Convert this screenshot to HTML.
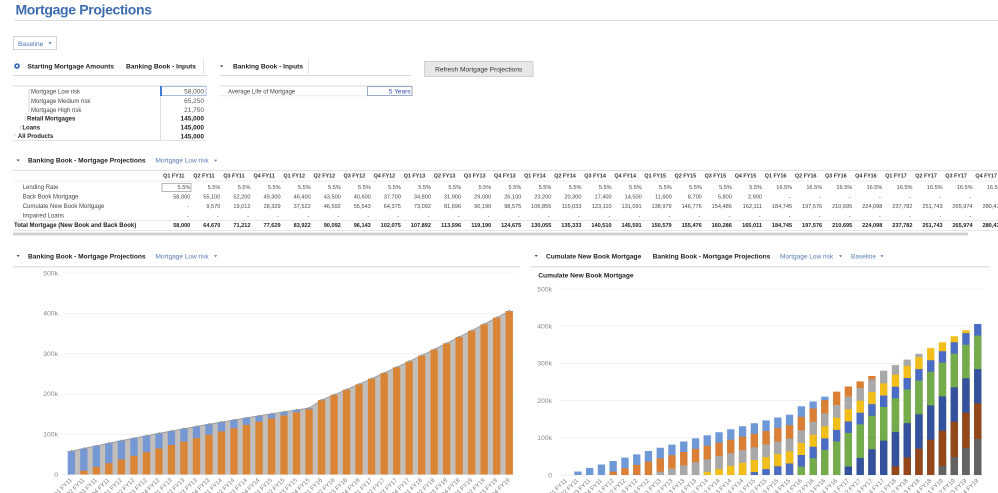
<!DOCTYPE html>
<html><head><meta charset="utf-8">
<style>
html,body{margin:0;padding:0;background:#fff;width:998px;height:493px;overflow:hidden}
svg{display:block}
text{font-family:"Liberation Sans",Arial,sans-serif}
</style></head>
<body>
<svg width="998" height="493" viewBox="0 0 998 493" xmlns="http://www.w3.org/2000/svg">
<!-- Title -->
<text x="15.5" y="14.5" font-size="14" font-weight="bold" fill="#3d6cb0" letter-spacing="-0.35">Mortgage Projections</text>
<line x1="14" y1="20.5" x2="998" y2="20.5" stroke="#dcdcdc"/>

<!-- Baseline dropdown -->
<rect x="13.5" y="36.5" width="43" height="13" fill="#fff" stroke="#d3d3d3"/>
<text x="18" y="45.8" font-size="6.6" fill="#4a72b0">Baseline</text>
<polygon points="48.5,42.3 51.7,42.3 50.1,44.2" fill="#4a72b0"/>

<!-- Row 2 -->
<circle cx="17" cy="66" r="2.8" fill="#2e6cb5"/><circle cx="17" cy="66" r="1.1" fill="#fff"/>
<g font-size="6.6" font-weight="bold" fill="#222">
<text x="27.5" y="68.3">Starting Mortgage Amounts</text>
<text x="126" y="68.3">Banking Book - Inputs</text>
<text x="233" y="68.3">Banking Book - Inputs</text>
</g>
<polygon points="220,65.3 223.4,65.3 221.7,67.4" fill="#555"/>
<line x1="203.5" y1="59" x2="203.5" y2="74" stroke="#e2e2e2"/>
<line x1="308.5" y1="59" x2="308.5" y2="74" stroke="#e2e2e2"/>
<line x1="13" y1="75.5" x2="207" y2="75.5" stroke="#dadada"/>
<line x1="219" y1="75.5" x2="411" y2="75.5" stroke="#dadada"/>
<rect x="424.5" y="61.5" width="108.5" height="15" fill="#e7e7e7" stroke="#d2d2d2"/>
<text x="478.7" y="71.6" font-size="6.6" fill="#333" text-anchor="middle">Refresh Mortgage Projections</text>

<!-- Tree inputs -->
<line x1="13" y1="86" x2="206" y2="86" stroke="#dcdcdc"/>
<line x1="160.5" y1="86" x2="160.5" y2="140" stroke="#e0e0e0"/>
<line x1="13" y1="140.5" x2="206" y2="140.5" stroke="#e3e3e3"/>
<g stroke="#bbb" stroke-width="0.6">
<line x1="29" y1="90" x2="29" y2="112"/><line x1="29" y1="90" x2="30.5" y2="90"/>
<line x1="25" y1="117" x2="25" y2="121"/><line x1="25" y1="117" x2="26.5" y2="117"/>
<line x1="20.5" y1="126" x2="20.5" y2="130"/><line x1="20.5" y1="126" x2="22" y2="126"/>
<line x1="13" y1="135" x2="16" y2="135"/>
</g>
<g font-size="6" fill="#444">
<text x="31" y="93.5">Mortgage Low risk</text>
<text x="31" y="102.9">Mortgage Medium risk</text>
<text x="31" y="111.9">Mortgage High risk</text>
</g>
<g font-size="6" fill="#222" font-weight="bold">
<text x="27" y="120.5">Retail Mortgages</text>
<text x="22.4" y="129.5">Loans</text>
<text x="17.9" y="138.2">All Products</text>
</g>
<rect x="160.5" y="86.5" width="45.5" height="9" fill="none" stroke="#a9bfe0"/>
<rect x="160" y="86" width="2" height="10" fill="#3b7dd8"/>
<g font-size="6.5" fill="#555" text-anchor="end">
<text x="204" y="93.6">58,000</text>
<text x="204" y="103">65,250</text>
<text x="204" y="112">21,750</text>
</g>
<g font-size="6.5" fill="#222" text-anchor="end" font-weight="bold">
<text x="204" y="120.6">145,000</text>
<text x="204" y="129.6">145,000</text>
<text x="204" y="138.3">145,000</text>
</g>

<!-- Average life -->
<line x1="219" y1="86" x2="412" y2="86" stroke="#dcdcdc"/>
<line x1="219" y1="95.7" x2="367" y2="95.7" stroke="#ececec"/>
<text x="228" y="93.5" font-size="6" fill="#444">Average Life of Mortgage</text>
<rect x="367.5" y="86.5" width="44.5" height="9" fill="#fff" stroke="#9aa9c9"/>
<text x="410.5" y="93.6" font-size="6.5" fill="#3346b0" text-anchor="end">5 Years</text>

<!-- Projections table header -->
<polygon points="16.5,159.5 19.8,159.5 18.15,161.5" fill="#555"/>
<text x="28" y="162.6" font-size="6.6" font-weight="bold" fill="#222">Banking Book - Mortgage Projections</text>
<text x="155.5" y="162.6" font-size="6.5" fill="#5679b6">Mortgage Low risk</text>
<polygon points="214,159.7 217.2,159.7 215.6,161.6" fill="#5679b6"/>

<line x1="13" y1="170.5" x2="998" y2="170.5" stroke="#e0e0e0"/>
<line x1="13" y1="181" x2="998" y2="181" stroke="#ececec"/>
<line x1="13" y1="220.5" x2="998" y2="220.5" stroke="#e6e6e6"/>
<line x1="13" y1="230.5" x2="998" y2="230.5" stroke="#e6e6e6"/>
<rect x="13" y="232.6" width="955" height="2.8" fill="#cfcfcf"/>
<rect x="162" y="183.3" width="29" height="8.2" fill="none" stroke="#999" stroke-width="0.7"/>

<text y="177.3" font-size="5.4" font-weight="bold" fill="#333" text-anchor="middle"><tspan x="173.8">Q1 FY11</tspan><tspan x="203.9">Q2 FY11</tspan><tspan x="234.0">Q3 FY11</tspan><tspan x="264.1">Q4 FY11</tspan><tspan x="294.2">Q1 FY12</tspan><tspan x="324.3">Q2 FY12</tspan><tspan x="354.3">Q3 FY12</tspan><tspan x="384.4">Q4 FY12</tspan><tspan x="414.5">Q1 FY13</tspan><tspan x="444.6">Q2 FY13</tspan><tspan x="474.7">Q3 FY13</tspan><tspan x="504.8">Q4 FY13</tspan><tspan x="534.9">Q1 FY14</tspan><tspan x="565.0">Q2 FY14</tspan><tspan x="595.1">Q3 FY14</tspan><tspan x="625.2">Q4 FY14</tspan><tspan x="655.2">Q1 FY15</tspan><tspan x="685.3">Q2 FY15</tspan><tspan x="715.4">Q3 FY15</tspan><tspan x="745.5">Q4 FY15</tspan><tspan x="775.6">Q1 FY16</tspan><tspan x="805.7">Q2 FY16</tspan><tspan x="835.8">Q3 FY16</tspan><tspan x="865.9">Q4 FY16</tspan><tspan x="896.0">Q1 FY17</tspan><tspan x="926.1">Q2 FY17</tspan><tspan x="956.1">Q3 FY17</tspan><tspan x="986.2">Q4 FY17</tspan></text>

<g font-size="6" fill="#444">
<text x="22.7" y="189">Lending Rate</text>
<text x="22.7" y="198.3">Back Book Mortgage</text>
<text x="22.7" y="208">Cumulate New Book Mortgage</text>
<text x="22.7" y="217.7">Impaired Loans</text>
</g>
<text x="14" y="227" font-size="6" font-weight="bold" fill="#222">Total Mortgage (New Book and Back Book)</text>

<g font-size="5.6" fill="#444" text-anchor="end">
<text y="189"><tspan x="190.3">5.5%</tspan><tspan x="220.4">5.5%</tspan><tspan x="250.5">5.5%</tspan><tspan x="280.6">5.5%</tspan><tspan x="310.7">5.5%</tspan><tspan x="340.8">5.5%</tspan><tspan x="370.8">5.5%</tspan><tspan x="400.9">5.5%</tspan><tspan x="431.0">5.5%</tspan><tspan x="461.1">5.5%</tspan><tspan x="491.2">5.5%</tspan><tspan x="521.3">5.5%</tspan><tspan x="551.4">5.5%</tspan><tspan x="581.5">5.5%</tspan><tspan x="611.6">5.5%</tspan><tspan x="641.7">5.5%</tspan><tspan x="671.7">5.5%</tspan><tspan x="701.8">5.5%</tspan><tspan x="731.9">5.5%</tspan><tspan x="762.0">5.5%</tspan><tspan x="792.1">16.5%</tspan><tspan x="822.2">16.5%</tspan><tspan x="852.3">16.5%</tspan><tspan x="882.4">16.5%</tspan><tspan x="912.5">16.5%</tspan><tspan x="942.6">16.5%</tspan><tspan x="972.6">16.5%</tspan><tspan x="1002.7">16.5%</tspan></text>
<text y="198.3"><tspan x="190.3">58,000</tspan><tspan x="220.4">55,100</tspan><tspan x="250.5">52,200</tspan><tspan x="280.6">49,300</tspan><tspan x="310.7">46,400</tspan><tspan x="340.8">43,500</tspan><tspan x="370.8">40,600</tspan><tspan x="400.9">37,700</tspan><tspan x="431.0">34,800</tspan><tspan x="461.1">31,900</tspan><tspan x="491.2">29,000</tspan><tspan x="521.3">26,100</tspan><tspan x="551.4">23,200</tspan><tspan x="581.5">20,300</tspan><tspan x="611.6">17,400</tspan><tspan x="641.7">14,500</tspan><tspan x="671.7">11,600</tspan><tspan x="701.8">8,700</tspan><tspan x="731.9">5,800</tspan><tspan x="762.0">2,900</tspan><tspan x="790.6">-</tspan><tspan x="820.7">-</tspan><tspan x="850.8">-</tspan><tspan x="880.9">-</tspan><tspan x="911.0">-</tspan><tspan x="941.1">-</tspan><tspan x="971.1">-</tspan><tspan x="1001.2">-</tspan></text>
<text y="208"><tspan x="188.8">-</tspan><tspan x="220.4">9,570</tspan><tspan x="250.5">19,012</tspan><tspan x="280.6">28,329</tspan><tspan x="310.7">37,522</tspan><tspan x="340.8">46,592</tspan><tspan x="370.8">55,543</tspan><tspan x="400.9">64,375</tspan><tspan x="431.0">73,092</tspan><tspan x="461.1">81,696</tspan><tspan x="491.2">90,190</tspan><tspan x="521.3">98,575</tspan><tspan x="551.4">106,855</tspan><tspan x="581.5">115,033</tspan><tspan x="611.6">123,110</tspan><tspan x="641.7">131,091</tspan><tspan x="671.7">138,979</tspan><tspan x="701.8">146,776</tspan><tspan x="731.9">154,486</tspan><tspan x="762.0">162,111</tspan><tspan x="792.1">184,745</tspan><tspan x="822.2">197,576</tspan><tspan x="852.3">210,695</tspan><tspan x="882.4">224,098</tspan><tspan x="912.5">237,782</tspan><tspan x="942.6">251,743</tspan><tspan x="972.6">265,974</tspan><tspan x="1002.7">280,476</tspan></text>
<text y="217.7"><tspan x="188.8">-</tspan><tspan x="218.9">-</tspan><tspan x="249.0">-</tspan><tspan x="279.1">-</tspan><tspan x="309.2">-</tspan><tspan x="339.3">-</tspan><tspan x="369.3">-</tspan><tspan x="399.4">-</tspan><tspan x="429.5">-</tspan><tspan x="459.6">-</tspan><tspan x="489.7">-</tspan><tspan x="519.8">-</tspan><tspan x="549.9">-</tspan><tspan x="580.0">-</tspan><tspan x="610.1">-</tspan><tspan x="640.2">-</tspan><tspan x="670.2">-</tspan><tspan x="700.3">-</tspan><tspan x="730.4">-</tspan><tspan x="760.5">-</tspan><tspan x="790.6">-</tspan><tspan x="820.7">-</tspan><tspan x="850.8">-</tspan><tspan x="880.9">-</tspan><tspan x="911.0">-</tspan><tspan x="941.1">-</tspan><tspan x="971.1">-</tspan><tspan x="1001.2">-</tspan></text>
<text y="227" font-weight="bold" fill="#222"><tspan x="190.3">58,000</tspan><tspan x="220.4">64,670</tspan><tspan x="250.5">71,212</tspan><tspan x="280.6">77,629</tspan><tspan x="310.7">83,922</tspan><tspan x="340.8">90,092</tspan><tspan x="370.8">96,143</tspan><tspan x="400.9">102,075</tspan><tspan x="431.0">107,892</tspan><tspan x="461.1">113,596</tspan><tspan x="491.2">119,190</tspan><tspan x="521.3">124,675</tspan><tspan x="551.4">130,055</tspan><tspan x="581.5">135,333</tspan><tspan x="611.6">140,510</tspan><tspan x="641.7">145,591</tspan><tspan x="671.7">150,579</tspan><tspan x="701.8">155,476</tspan><tspan x="731.9">160,286</tspan><tspan x="762.0">165,011</tspan><tspan x="792.1">184,745</tspan><tspan x="822.2">197,576</tspan><tspan x="852.3">210,695</tspan><tspan x="882.4">224,098</tspan><tspan x="912.5">237,782</tspan><tspan x="942.6">251,743</tspan><tspan x="972.6">265,974</tspan><tspan x="1002.7">280,476</tspan></text>
</g>

<!-- Chart section headers -->
<polygon points="16.5,255 19.8,255 18.15,257" fill="#555"/>
<text x="28" y="258.3" font-size="6.6" font-weight="bold" fill="#222">Banking Book - Mortgage Projections</text>
<text x="155.5" y="258.3" font-size="6.5" fill="#5679b6">Mortgage Low risk</text>
<polygon points="214,255.3 217.2,255.3 215.6,257.2" fill="#5679b6"/>
<rect x="13" y="266" width="507" height="1.5" fill="#e4e4e4"/>

<polygon points="534.5,255 537.8,255 536.15,257" fill="#555"/>
<text x="546" y="258.3" font-size="6.6" font-weight="bold" fill="#222">Cumulate New Book Mortgage</text>
<text x="652.7" y="258.3" font-size="6.6" font-weight="bold" fill="#222">Banking Book - Mortgage Projections</text>
<text x="780" y="258.3" font-size="6.5" fill="#5679b6">Mortgage Low risk</text>
<polygon points="839,255.3 842.2,255.3 840.6,257.2" fill="#5679b6"/>
<text x="851" y="258.3" font-size="6.5" fill="#5679b6">Baseline</text>
<polygon points="880.3,255.3 883.5,255.3 881.9,257.2" fill="#5679b6"/>
<rect x="530" y="266" width="460" height="1.5" fill="#e4e4e4"/>
<text x="538.3" y="277.6" font-size="6.6" font-weight="bold" fill="#222">Cumulate New Book Mortgage</text>

<!-- Left chart grid -->
<g stroke="#efefef" stroke-width="0.8">
<line x1="63" y1="434.2" x2="514" y2="434.2"/><line x1="63" y1="393.9" x2="514" y2="393.9"/><line x1="63" y1="353.6" x2="514" y2="353.6"/><line x1="63" y1="313.3" x2="514" y2="313.3"/><line x1="63" y1="273" x2="514" y2="273"/>
</g>
<line x1="63" y1="474.5" x2="514" y2="474.5" stroke="#e6e6e6" stroke-width="0.8"/>
<g font-size="6.8" fill="#888" text-anchor="end">
<text x="58" y="476.8">0</text><text x="58" y="436.5">100k</text><text x="58" y="396.2">200k</text><text x="58" y="355.9">300k</text><text x="58" y="315.6">400k</text><text x="58" y="275.3">500k</text>
</g>

<!-- Left area -->
<polygon fill="#c1bebb" points="71.35,451.13 83.85,448.43 96.35,445.8 108.85,443.21 121.35,440.68 133.95,438.19 146.45,435.76 158.95,433.37 171.45,431.02 183.95,428.72 196.45,426.46 208.95,424.25 221.45,422.09 233.95,419.96 246.45,417.88 259.05,415.83 271.55,413.82 284.05,411.84 296.55,409.9 309.05,408.0 321.55,400.05 334.05,394.88 346.55,389.59 359.05,384.19 371.55,378.67 384.15,373.05 396.65,367.31 409.15,361.47 421.65,355.52 434.15,349.46 446.65,343.3 459.15,337.03 471.65,330.66 484.15,324.19 496.65,317.62 509.25,310.95 509.25,474.5 71.35,474.5"/>
<polyline fill="none" stroke="#9a9a9a" stroke-width="0.9" points="71.35,451.13 83.85,448.43 96.35,445.8 108.85,443.21 121.35,440.68 133.95,438.19 146.45,435.76 158.95,433.37 171.45,431.02 183.95,428.72 196.45,426.46 208.95,424.25 221.45,422.09 233.95,419.96 246.45,417.88 259.05,415.83 271.55,413.82 284.05,411.84 296.55,409.9 309.05,408.0 321.55,400.05 334.05,394.88 346.55,389.59 359.05,384.19 371.55,378.67 384.15,373.05 396.65,367.31 409.15,361.47 421.65,355.52 434.15,349.46 446.65,343.3 459.15,337.03 471.65,330.66 484.15,324.19 496.65,317.62 509.25,310.95"/>

<!-- Left bars -->
<g transform="translate(0,474.5) scale(1,-0.000403)">
<path fill="#da8436" d="M80.2 0h7.3V9570h-7.3zM92.7 0h7.3V19012h-7.3zM105.2 0h7.3V28329h-7.3zM117.7 0h7.3V37522h-7.3zM130.3 0h7.3V46592h-7.3zM142.8 0h7.3V55543h-7.3zM155.3 0h7.3V64375h-7.3zM167.8 0h7.3V73092h-7.3zM180.3 0h7.3V81696h-7.3zM192.8 0h7.3V90190h-7.3zM205.3 0h7.3V98575h-7.3zM217.8 0h7.3V106855h-7.3zM230.3 0h7.3V115033h-7.3zM242.8 0h7.3V123110h-7.3zM255.4 0h7.3V131091h-7.3zM267.9 0h7.3V138979h-7.3zM280.4 0h7.3V146776h-7.3zM292.9 0h7.3V154486h-7.3zM305.4 0h7.3V162111h-7.3zM317.9 0h7.3V184745h-7.3zM330.4 0h7.3V197576h-7.3zM342.9 0h7.3V210695h-7.3zM355.4 0h7.3V224098h-7.3zM367.9 0h7.3V237782h-7.3zM380.5 0h7.3V251743h-7.3zM393 0h7.3V265974h-7.3zM405.5 0h7.3V280476h-7.3zM418 0h7.3V295243h-7.3zM430.5 0h7.3V310273h-7.3zM443 0h7.3V325563h-7.3zM455.5 0h7.3V341112h-7.3zM468 0h7.3V356916h-7.3zM480.5 0h7.3V372972h-7.3zM493 0h7.3V389279h-7.3zM505.6 0h7.3V405832h-7.3z"/>
<path fill="#7598d4" d="M67.7 0h7.3V58000h-7.3zM80.2 9570h7.3V64670h-7.3zM92.7 19012h7.3V71212h-7.3zM105.2 28329h7.3V77629h-7.3zM117.7 37522h7.3V83922h-7.3zM130.3 46592h7.3V90092h-7.3zM142.8 55543h7.3V96143h-7.3zM155.3 64375h7.3V102075h-7.3zM167.8 73092h7.3V107892h-7.3zM180.3 81696h7.3V113596h-7.3zM192.8 90190h7.3V119190h-7.3zM205.3 98575h7.3V124675h-7.3zM217.8 106855h7.3V130055h-7.3zM230.3 115033h7.3V135333h-7.3zM242.8 123110h7.3V140510h-7.3zM255.4 131091h7.3V145591h-7.3zM267.9 138979h7.3V150579h-7.3zM280.4 146776h7.3V155476h-7.3zM292.9 154486h7.3V160286h-7.3zM305.4 162111h7.3V165011h-7.3z"/>
</g>
<path fill="none" stroke="#999" stroke-width="2.2" stroke-linecap="round" d="M71.35 451.13h0.01M83.85 448.43h0.01M96.35 445.8h0.01M108.85 443.21h0.01M121.35 440.68h0.01M133.95 438.19h0.01M146.45 435.76h0.01M158.95 433.37h0.01M171.45 431.02h0.01M183.95 428.72h0.01M196.45 426.46h0.01M208.95 424.25h0.01M221.45 422.09h0.01M233.95 419.96h0.01M246.45 417.88h0.01M259.05 415.83h0.01M271.55 413.82h0.01M284.05 411.84h0.01M296.55 409.9h0.01M309.05 408h0.01M321.55 400.05h0.01M334.05 394.88h0.01M346.55 389.59h0.01M359.05 384.19h0.01M371.55 378.67h0.01M384.15 373.05h0.01M396.65 367.31h0.01M409.15 361.47h0.01M421.65 355.52h0.01M434.15 349.46h0.01M446.65 343.3h0.01M459.15 337.03h0.01M471.65 330.66h0.01M484.15 324.19h0.01M496.65 317.62h0.01M509.25 310.95h0.01"/>

<!-- Left x labels -->
<g font-size="6" fill="#7a7a7a" text-anchor="end">
<text transform="translate(72.4,480.5) rotate(-45)">Q1 FY11</text>
<text transform="translate(84.9,480.5) rotate(-45)">Q2 FY11</text>
<text transform="translate(97.4,480.5) rotate(-45)">Q3 FY11</text>
<text transform="translate(109.9,480.5) rotate(-45)">Q4 FY11</text>
<text transform="translate(122.4,480.5) rotate(-45)">Q1 FY12</text>
<text transform="translate(134.9,480.5) rotate(-45)">Q2 FY12</text>
<text transform="translate(147.4,480.5) rotate(-45)">Q3 FY12</text>
<text transform="translate(159.9,480.5) rotate(-45)">Q4 FY12</text>
<text transform="translate(172.4,480.5) rotate(-45)">Q1 FY13</text>
<text transform="translate(184.9,480.5) rotate(-45)">Q2 FY13</text>
<text transform="translate(197.5,480.5) rotate(-45)">Q3 FY13</text>
<text transform="translate(210,480.5) rotate(-45)">Q4 FY13</text>
<text transform="translate(222.5,480.5) rotate(-45)">Q1 FY14</text>
<text transform="translate(235,480.5) rotate(-45)">Q2 FY14</text>
<text transform="translate(247.5,480.5) rotate(-45)">Q3 FY14</text>
<text transform="translate(260,480.5) rotate(-45)">Q4 FY14</text>
<text transform="translate(272.5,480.5) rotate(-45)">Q1 FY15</text>
<text transform="translate(285,480.5) rotate(-45)">Q2 FY15</text>
<text transform="translate(297.5,480.5) rotate(-45)">Q3 FY15</text>
<text transform="translate(310,480.5) rotate(-45)">Q4 FY15</text>
<text transform="translate(322.6,480.5) rotate(-45)">Q1 FY16</text>
<text transform="translate(335.1,480.5) rotate(-45)">Q2 FY16</text>
<text transform="translate(347.6,480.5) rotate(-45)">Q3 FY16</text>
<text transform="translate(360.1,480.5) rotate(-45)">Q4 FY16</text>
<text transform="translate(372.6,480.5) rotate(-45)">Q1 FY17</text>
<text transform="translate(385.1,480.5) rotate(-45)">Q2 FY17</text>
<text transform="translate(397.6,480.5) rotate(-45)">Q3 FY17</text>
<text transform="translate(410.1,480.5) rotate(-45)">Q4 FY17</text>
<text transform="translate(422.6,480.5) rotate(-45)">Q1 FY18</text>
<text transform="translate(435.1,480.5) rotate(-45)">Q2 FY18</text>
<text transform="translate(447.7,480.5) rotate(-45)">Q3 FY18</text>
<text transform="translate(460.2,480.5) rotate(-45)">Q4 FY18</text>
<text transform="translate(472.7,480.5) rotate(-45)">Q1 FY19</text>
<text transform="translate(485.2,480.5) rotate(-45)">Q2 FY19</text>
<text transform="translate(497.7,480.5) rotate(-45)">Q3 FY19</text>
<text transform="translate(510.2,480.5) rotate(-45)">Q4 FY19</text>
</g>

<!-- Right chart grid -->
<g stroke="#efefef" stroke-width="0.8">
<line x1="560" y1="437.8" x2="983" y2="437.8"/><line x1="560" y1="400.6" x2="983" y2="400.6"/><line x1="560" y1="363.4" x2="983" y2="363.4"/><line x1="560" y1="326.2" x2="983" y2="326.2"/><line x1="560" y1="289" x2="983" y2="289"/>
</g>
<line x1="560" y1="475" x2="983" y2="475" stroke="#e6e6e6" stroke-width="0.8"/>
<g font-size="6.8" fill="#888" text-anchor="end">
<text x="552" y="477.3">0</text><text x="552" y="440.1">100k</text><text x="552" y="402.9">200k</text><text x="552" y="365.7">300k</text><text x="552" y="328.5">400k</text><text x="552" y="291.3">500k</text>
</g>

<!-- Right stacked bars -->
<g transform="translate(0,475) scale(1,-0.000372)">
<path fill="#6f98d6" d="M574.3 0h7.3V9570h-7.3zM586 0h7.3V19012h-7.3zM597.8 0h7.3V28329h-7.3zM609.5 0h7.3V37522h-7.3zM621.3 0h7.3V46592h-7.3zM633.1 0h7.3V55543h-7.3zM644.8 0h7.3V64375h-7.3zM656.6 0h7.3V73092h-7.3zM668.3 0h7.3V81696h-7.3zM680.1 0h7.3V90190h-7.3zM691.9 0h7.3V98575h-7.3zM703.6 0h7.3V106855h-7.3zM715.4 0h7.3V115033h-7.3zM727.1 0h7.3V123110h-7.3zM738.9 0h7.3V131091h-7.3zM750.7 0h7.3V138979h-7.3zM762.4 0h7.3V146776h-7.3zM774.2 0h7.3V154486h-7.3zM785.9 0h7.3V162111h-7.3zM797.7 0h7.3V184745h-7.3zM809.5 0h7.3V197576h-7.3zM821.2 0h7.3V210695h-7.3z"/>
<path fill="#db7f35" d="M609.5 0h7.3V9193h-7.3zM621.3 0h7.3V18263h-7.3zM633.1 0h7.3V27214h-7.3zM644.8 0h7.3V36046h-7.3zM656.6 0h7.3V44763h-7.3zM668.3 0h7.3V53367h-7.3zM680.1 0h7.3V61861h-7.3zM691.9 0h7.3V70246h-7.3zM703.6 0h7.3V78526h-7.3zM715.4 0h7.3V86704h-7.3zM727.1 0h7.3V94781h-7.3zM738.9 0h7.3V102762h-7.3zM750.7 0h7.3V110650h-7.3zM762.4 0h7.3V118447h-7.3zM774.2 0h7.3V126157h-7.3zM785.9 0h7.3V133782h-7.3zM797.7 0h7.3V156416h-7.3zM809.5 0h7.3V178817h-7.3zM821.2 0h7.3V201378h-7.3zM833 0h7.3V224098h-7.3zM844.7 0h7.3V237782h-7.3zM856.5 0h7.3V251743h-7.3zM868.3 0h7.3V265974h-7.3z"/>
<path fill="#a8a8a8" d="M656.6 0h7.3V8717h-7.3zM668.3 0h7.3V17321h-7.3zM680.1 0h7.3V25815h-7.3zM691.9 0h7.3V34200h-7.3zM703.6 0h7.3V42480h-7.3zM715.4 0h7.3V50658h-7.3zM727.1 0h7.3V58735h-7.3zM738.9 0h7.3V66716h-7.3zM750.7 0h7.3V74604h-7.3zM762.4 0h7.3V82401h-7.3zM774.2 0h7.3V90111h-7.3zM785.9 0h7.3V97736h-7.3zM797.7 0h7.3V120370h-7.3zM809.5 0h7.3V142771h-7.3zM821.2 0h7.3V165332h-7.3zM833 0h7.3V188052h-7.3zM844.7 0h7.3V210929h-7.3zM856.5 0h7.3V233960h-7.3zM868.3 0h7.3V257142h-7.3zM880 0h7.3V280476h-7.3zM891.8 0h7.3V295243h-7.3zM903.5 0h7.3V310273h-7.3zM915.3 0h7.3V325563h-7.3z"/>
<path fill="#f2bf1a" d="M703.6 0h7.3V8280h-7.3zM715.4 0h7.3V16458h-7.3zM727.1 0h7.3V24535h-7.3zM738.9 0h7.3V32516h-7.3zM750.7 0h7.3V40404h-7.3zM762.4 0h7.3V48201h-7.3zM774.2 0h7.3V55911h-7.3zM785.9 0h7.3V63536h-7.3zM797.7 0h7.3V86170h-7.3zM809.5 0h7.3V108571h-7.3zM821.2 0h7.3V131132h-7.3zM833 0h7.3V153852h-7.3zM844.7 0h7.3V176729h-7.3zM856.5 0h7.3V199760h-7.3zM868.3 0h7.3V222942h-7.3zM880 0h7.3V246276h-7.3zM891.8 0h7.3V269760h-7.3zM903.5 0h7.3V293394h-7.3zM915.3 0h7.3V317178h-7.3zM927.1 0h7.3V341112h-7.3zM938.8 0h7.3V356916h-7.3zM950.6 0h7.3V372972h-7.3zM962.3 0h7.3V389279h-7.3z"/>
<path fill="#4a6cc4" d="M750.7 0h7.3V7888h-7.3zM762.4 0h7.3V15685h-7.3zM774.2 0h7.3V23395h-7.3zM785.9 0h7.3V31020h-7.3zM797.7 0h7.3V53654h-7.3zM809.5 0h7.3V76055h-7.3zM821.2 0h7.3V98616h-7.3zM833 0h7.3V121336h-7.3zM844.7 0h7.3V144213h-7.3zM856.5 0h7.3V167244h-7.3zM868.3 0h7.3V190426h-7.3zM880 0h7.3V213760h-7.3zM891.8 0h7.3V237244h-7.3zM903.5 0h7.3V260878h-7.3zM915.3 0h7.3V284662h-7.3zM927.1 0h7.3V308596h-7.3zM938.8 0h7.3V332680h-7.3zM950.6 0h7.3V356914h-7.3zM962.3 0h7.3V381298h-7.3zM974.1 0h7.3V405832h-7.3z"/>
<path fill="#74ac4c" d="M797.7 0h7.3V22634h-7.3zM809.5 0h7.3V45035h-7.3zM821.2 0h7.3V67596h-7.3zM833 0h7.3V90316h-7.3zM844.7 0h7.3V113193h-7.3zM856.5 0h7.3V136224h-7.3zM868.3 0h7.3V159406h-7.3zM880 0h7.3V182740h-7.3zM891.8 0h7.3V206224h-7.3zM903.5 0h7.3V229858h-7.3zM915.3 0h7.3V253642h-7.3zM927.1 0h7.3V277576h-7.3zM938.8 0h7.3V301660h-7.3zM950.6 0h7.3V325894h-7.3zM962.3 0h7.3V350278h-7.3zM974.1 0h7.3V374812h-7.3z"/>
<path fill="#34519e" d="M844.7 0h7.3V22877h-7.3zM856.5 0h7.3V45908h-7.3zM868.3 0h7.3V69090h-7.3zM880 0h7.3V92424h-7.3zM891.8 0h7.3V115908h-7.3zM903.5 0h7.3V139542h-7.3zM915.3 0h7.3V163326h-7.3zM927.1 0h7.3V187260h-7.3zM938.8 0h7.3V211344h-7.3zM950.6 0h7.3V235578h-7.3zM962.3 0h7.3V259962h-7.3zM974.1 0h7.3V284496h-7.3z"/>
<path fill="#94481a" d="M891.8 0h7.3V23484h-7.3zM903.5 0h7.3V47118h-7.3zM915.3 0h7.3V70902h-7.3zM927.1 0h7.3V94836h-7.3zM938.8 0h7.3V118920h-7.3zM950.6 0h7.3V143154h-7.3zM962.3 0h7.3V167538h-7.3zM974.1 0h7.3V192072h-7.3z"/>
<path fill="#636363" d="M938.8 0h7.3V24084h-7.3zM950.6 0h7.3V48318h-7.3zM962.3 0h7.3V72702h-7.3zM974.1 0h7.3V97236h-7.3z"/>
</g>

<!-- Right x labels -->
<g font-size="6" fill="#7a7a7a" text-anchor="end">
<text transform="translate(567.2,481) rotate(-45)">Q1 FY11</text>
<text transform="translate(578.9,481) rotate(-45)">Q2 FY11</text>
<text transform="translate(590.7,481) rotate(-45)">Q3 FY11</text>
<text transform="translate(602.5,481) rotate(-45)">Q4 FY11</text>
<text transform="translate(614.2,481) rotate(-45)">Q1 FY12</text>
<text transform="translate(626,481) rotate(-45)">Q2 FY12</text>
<text transform="translate(637.8,481) rotate(-45)">Q3 FY12</text>
<text transform="translate(649.5,481) rotate(-45)">Q4 FY12</text>
<text transform="translate(661.3,481) rotate(-45)">Q1 FY13</text>
<text transform="translate(673,481) rotate(-45)">Q2 FY13</text>
<text transform="translate(684.8,481) rotate(-45)">Q3 FY13</text>
<text transform="translate(696.6,481) rotate(-45)">Q4 FY13</text>
<text transform="translate(708.3,481) rotate(-45)">Q1 FY14</text>
<text transform="translate(720.1,481) rotate(-45)">Q2 FY14</text>
<text transform="translate(731.8,481) rotate(-45)">Q3 FY14</text>
<text transform="translate(743.6,481) rotate(-45)">Q4 FY14</text>
<text transform="translate(755.4,481) rotate(-45)">Q1 FY15</text>
<text transform="translate(767.1,481) rotate(-45)">Q2 FY15</text>
<text transform="translate(778.9,481) rotate(-45)">Q3 FY15</text>
<text transform="translate(790.6,481) rotate(-45)">Q4 FY15</text>
<text transform="translate(802.4,481) rotate(-45)">Q1 FY16</text>
<text transform="translate(814.2,481) rotate(-45)">Q2 FY16</text>
<text transform="translate(825.9,481) rotate(-45)">Q3 FY16</text>
<text transform="translate(837.7,481) rotate(-45)">Q4 FY16</text>
<text transform="translate(849.4,481) rotate(-45)">Q1 FY17</text>
<text transform="translate(861.2,481) rotate(-45)">Q2 FY17</text>
<text transform="translate(873,481) rotate(-45)">Q3 FY17</text>
<text transform="translate(884.7,481) rotate(-45)">Q4 FY17</text>
<text transform="translate(896.5,481) rotate(-45)">Q1 FY18</text>
<text transform="translate(908.2,481) rotate(-45)">Q2 FY18</text>
<text transform="translate(920,481) rotate(-45)">Q3 FY18</text>
<text transform="translate(931.8,481) rotate(-45)">Q4 FY18</text>
<text transform="translate(943.5,481) rotate(-45)">Q1 FY19</text>
<text transform="translate(955.3,481) rotate(-45)">Q2 FY19</text>
<text transform="translate(967,481) rotate(-45)">Q3 FY19</text>
<text transform="translate(978.8,481) rotate(-45)">Q4 FY19</text>
</g>
</svg>
</body></html>
